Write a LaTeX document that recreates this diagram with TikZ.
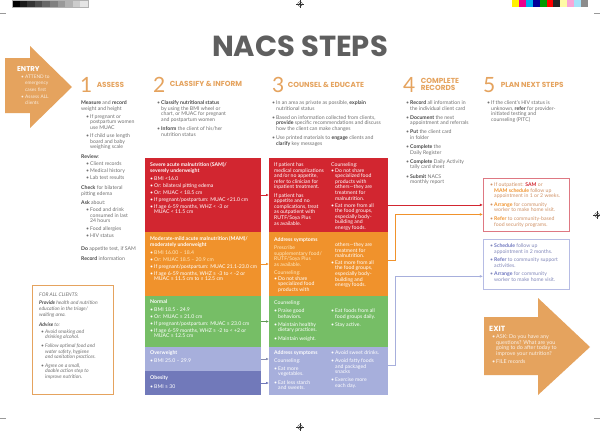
\documentclass[tikz,border=0pt]{standalone}
\usepackage{fontspec}
\setmainfont{Lato}
\newfontfamily\headfont{Poppins}
\usetikzlibrary{arrows.meta, positioning, calc}
\setlength{\parindent}{0pt}

\definecolor{accent}{RGB}{229,163,94}
\definecolor{samred}{RGB}{210,38,48}
\definecolor{mamorange}{RGB}{240,146,44}
\definecolor{normgreen}{RGB}{118,190,102}
\definecolor{owlilac}{RGB}{167,175,220}
\definecolor{obblue}{RGB}{113,121,186}
\definecolor{textgrey}{RGB}{112,112,112}
\definecolor{keygrey}{RGB}{70,70,70}
\definecolor{titlegrey}{RGB}{95,95,95}
\definecolor{planred}{RGB}{222,120,130}
\definecolor{planlilac}{RGB}{182,188,228}
\definecolor{plantxt}{RGB}{208,146,102}
\definecolor{liltxt}{RGB}{130,136,186}
\definecolor{lilkey}{RGB}{108,116,190}
\definecolor{paletxt}{RGB}{255,232,190}

\newcommand{\bu}{\makebox[4pt][l]{\textbullet}}
\newcommand{\ci}{\\\hspace*{4pt}}
\newcommand{\sbu}{\hspace*{5pt}\bu}
\newcommand{\sci}{\\\hspace*{9pt}}
\newcommand{\kw}[1]{\textbf{\color{keygrey}#1}}
\newcommand{\pale}[1]{{\color{paletxt}#1}}

\tikzset{
    body/.style={
        font=\fontsize{5.15}{5.6}\selectfont,
        text=textgrey,
        inner sep=0pt,
        align=left,
        anchor=north west
    },
    boxtext/.style={body, text=white},
    stepnum/.style={
        font=\fontsize{21}{21}\selectfont,
        text=accent,
        inner sep=0pt,
        anchor=base west
    },
    stephead/.style={
        font=\headfont\bfseries\fontsize{7.3}{7.4}\selectfont,
        text=accent,
        inner sep=0pt,
        align=left
    },
    classbox/.style={
        minimum width=116pt,
        inner sep=0pt,
        outer sep=0pt,
        anchor=north west
    },
    counselbox/.style={
        minimum width=119pt,
        inner sep=0pt,
        outer sep=0pt
    },
    planbox/.style={
        draw,
        line width=0.9pt,
        minimum width=86pt,
        inner sep=0pt,
        anchor=north west
    },
    link/.style={line width=0.6pt, -{Latex[length=3pt,width=2.6pt]}},
    flow/.style={line width=0.7pt, -{Latex[length=3.2pt,width=2.8pt]}}
}

\begin{document}
\begin{tikzpicture}[x=1pt, y=-1pt]

    \fill[white] (0,0) rectangle (600,431);
    \useasboundingbox (0,0) rectangle (600,431);

    % printer marks
    \foreach \i [evaluate=\i as \g using 100-10*\i] in {0,...,9}
        \fill[black!\g] (12+7.6*\i,0) rectangle ++(7.6,7);
    \draw[black!30, line width=0.2pt] (12,0) rectangle (88,7);
    \foreach \c [count=\i from 0] in {yellow, magenta, cyan, blue!60!black, green!60!black, red, black!85, yellow!35, magenta!35, cyan!35, black!45}
        \fill[\c] (512+6.9*\i,0) rectangle ++(6.9,7);
    \foreach \mx/\my in {300/4, 597/215, 300/427} {
        \draw[black!80, line width=0.3pt] (\mx,\my) circle[radius=2.4pt];
        \fill[black!80] (\mx,\my) circle[radius=1.1pt];
        \draw[black!80, line width=0.3pt] (\mx-4,\my) -- (\mx+4,\my) (\mx,\my-4) -- (\mx,\my+4);
    }
    \draw[black!40, line width=0.3pt] (0,13) -- (6,13) (594,13) -- (600,13) (0,418) -- (6,418) (594,418) -- (600,418);

    % title
    \node (title) [font=\headfont\bfseries\fontsize{29}{29}\selectfont, text=titlegrey, inner sep=0pt] at (300,46) {NACS STEPS};

    % entry and exit arrows
    \fill[accent] (5,58) -- (30,58) -- (30,46) -- (72,87) -- (30,128) -- (30,113) -- (5,113) -- cycle;
    \node (entry) [font=\headfont\bfseries\fontsize{7}{7}\selectfont, text=white, inner sep=0pt, anchor=west] at (17,69) {ENTRY};
    \node (entrytxt) [body, text=white!80!accent, font=\fontsize{4.8}{6.7}\selectfont] at (21,74.5)
        {\bu ATTEND to\ci emergency\ci cases first\\\bu Assess ALL\ci clients};

    \fill[accent] (484,317) -- (538,317) -- (538,298) -- (590,347) -- (538,395) -- (538,375) -- (484,375) -- cycle;
    \node (exit) [font=\headfont\bfseries\fontsize{7.5}{7.5}\selectfont, text=white, inner sep=0pt, anchor=west] at (489,329) {EXIT};
    \node (exittxt) [body, text=white!85!accent, font=\fontsize{5.4}{5.5}\selectfont] at (492,334.5)
        {\bu ASK: Do you have any\ci questions? What are you\ci going to do after today to\ci improve your nutrition?\\[2.5pt]\bu FILE records};

    % step headings
    \node (n1) [stepnum] at (80,92) {1};
    \node (h1) [stephead, right=4pt of n1] {ASSESS};
    \node (n2) [stepnum] at (153,92) {2};
    \node (h2) [stephead, right=4pt of n2] {CLASSIFY \& INFORM};
    \node (n3) [stepnum] at (272,92) {3};
    \node (h3) [stephead, right=3pt of n3] {COUNSEL \& EDUCATE};
    \node (n4) [stepnum] at (403,92) {4};
    \node (h4) [stephead, right=5pt of n4] {COMPLETE\\RECORDS};
    \node (n5) [stepnum] at (483,92) {5};
    \node (h5) [stephead, right=5pt of n5] {PLAN NEXT STEPS};

    % step texts
    \node (assess) [body] at (81,100.5) {\kw{Measure} and \kw{record}\\weight and height\\[2.6pt]
        \sbu If pregnant or\sci postpartum women\sci use MUAC\\[2.6pt]
        \sbu If child use length\sci board and baby\sci weighing scale\\[4pt]
        \kw{Review}:\\[1.5pt]\sbu Client records\\[1.5pt]\sbu Medical history\\[1.5pt]\sbu Lab test results\\[4pt]
        \kw{Check} for bilateral\\pitting edema\\[4pt]
        \kw{Ask} about:\\[1.5pt]\sbu Food and drink\sci consumed in last\sci 24 hours\\[1.5pt]\sbu Food allergies\\[1.5pt]\sbu HIV status\\[8pt]
        \kw{Do} appetite test, if SAM\\[4pt]
        \kw{Record} information};
    \node (classify) [body] at (157,100.5) {\bu \kw{Classify nutritional status}\ci by using the BMI wheel or\ci chart, or MUAC for pregnant\ci and postpartum women\\[3.5pt]
        \bu \kw{Inform} the client of his/her\ci nutrition status};
    \node (counsel) [body] at (272,100.5) {\bu In an area as private as possible, \kw{explain}\ci nutritional status\\[3.5pt]
        \bu Based on information collected from clients,\ci \kw{provide} specific recommendations and discuss\ci how the client can make changes\\[3.5pt]
        \bu Use printed materials to \kw{engage} clients and\ci \kw{clarify} key messages};
    \node (records) [body] at (406,100.5) {\bu \kw{Record} all information in\ci the individual client card\\[3.5pt]
        \bu \kw{Document} the next\ci appointment and referrals\\[3.5pt]
        \bu \kw{Put} the client card\ci in folder\\[3.5pt]
        \bu \kw{Complete} the\ci Daily Register\\[3.5pt]
        \bu \kw{Complete} Daily Activity\ci tally card sheet\\[3.5pt]
        \bu \kw{Submit} NACS\ci monthly report};
    \node (plan) [body] at (487,100.5) {\bu If the client's HIV status is\ci unknown, \kw{refer} for provider-\ci initiated testing and\ci counseling (PITC)};

    % for all clients
    \node (allbox) [draw=accent, line width=0.9pt, minimum width=81pt, minimum height=109pt, inner sep=0pt, anchor=north west] at (32,285) {};
    \node (alltxt) [body, font=\itshape\fontsize{5}{5.6}\selectfont, below right=7.5pt and 7pt of allbox.north west] {FOR ALL CLIENTS:\\[3pt]
        \kw{Provide} health and nutrition\\education in the triage/\\waiting area.\\[5pt]
        \kw{Advise} to:\\[1pt]
        \hspace*{2pt}\bu Avoid smoking and\\\hspace*{6pt}drinking alcohol.\\[3pt]
        \hspace*{2pt}\bu Follow optimal food and\\\hspace*{6pt}water safety, hygiene\\\hspace*{6pt}and sanitation practices.\\[3pt]
        \hspace*{2pt}\bu Agree on a small,\\\hspace*{6pt}doable action step to\\\hspace*{6pt}improve nutrition.};

    % classification boxes
    \node (sam) [classbox, fill=samred, minimum height=74pt] at (145,158) {};
    \node (mam) [classbox, fill=mamorange, minimum height=64pt, below=0pt of sam] {};
    \node (norm) [classbox, fill=normgreen, minimum height=51pt, below=0pt of mam] {};
    \node (ow) [classbox, fill=owlilac, minimum height=24pt, below=0pt of norm] {};
    \node (ob) [classbox, fill=obblue, minimum height=24pt, below=0pt of ow] {};

    \node (samtxt) [boxtext, below right=4.5pt and 5pt of sam.north west] {\textbf{Severe acute malnutrition (SAM)/}\\\textbf{severely underweight}\\[2.5pt]
        \bu BMI <16.0\\[1.3pt]\bu Or: bilateral pitting edema\\[1.3pt]\bu Or: MUAC < 18.5 cm\\[1.3pt]
        \bu If pregnant/postpartum: MUAC <21.0 cm\\[1.3pt]\bu If age 6-59 months, WHZ < -3 or\ci MUAC < 11.5 cm};
    \node (mamtxt) [boxtext, below right=4.5pt and 5pt of mam.north west] {\textbf{Moderate-mild acute malnutrition (MAM)/}\\\textbf{moderately underweight}\\[2.5pt]
        \bu \pale{BMI 16.00 – 18.4}\\[1.3pt]\bu \pale{Or: MUAC 18.5 – 20.9 cm}\\[1.3pt]
        \bu If pregnant/postpartum: MUAC 21.1-23.0 cm\\[1.3pt]\bu If age 6-59 months, WHZ ≥ -3 to < -2 or\ci MUAC ≥ 11.5 cm to ≤ 12.5 cm};
    \node (normtxt) [boxtext, below right=3.5pt and 5pt of norm.north west] {\textbf{Normal}\\[2.5pt]
        \bu BMI 18.5 - 24.9\\[1.3pt]\bu Or: MUAC ≥ 21.0 cm\\[1.3pt]
        \bu If pregnant/postpartum: MUAC ≥ 23.0 cm\\[1.3pt]\bu If age 6-59 months, WHZ ≥ -2 to < +2 or\ci MUAC ≥ 12.5 cm};
    \node (owtxt) [boxtext, below right=3.5pt and 5pt of ow.north west] {\textbf{Overweight}\\[2.5pt]\bu BMI 25.0 – 29.9};
    \node (obtxt) [boxtext, below right=4.5pt and 5pt of ob.north west] {\textbf{Obesity}\\[3.5pt]\bu BMI ≥ 30};

    % counselling boxes
    \node (samc) [counselbox, fill=samred, minimum height=74pt, right=8pt of sam] {};
    \node (mamc) [counselbox, fill=mamorange, minimum height=64pt, right=8pt of mam] {};
    \node (normc) [counselbox, fill=normgreen, minimum height=51pt, right=8pt of norm] {};
    \node (ovc) [counselbox, fill=owlilac, minimum height=48pt, anchor=north west] at (norm.south east -| normc.west) {};

    \node (samcl) [boxtext, below right=4.5pt and 5pt of samc.north west] {If patient has\\medical complications\\and/or no appetite,\\refer to clinician for\\inpatient treatment.\\[2.6pt]
        If patient has\\appetite and no\\complications, treat\\as outpatient with\\RUTF/Soya Plus\\as available.};
    \node (samcr) [boxtext, below right=4.5pt and 62pt of samc.north west] {Counseling:\\\bu Do not share\ci specialized food\ci products with\ci others—they are\ci treatment for\ci malnutrition.\\[1.5pt]
        \bu Eat more from all\ci the food groups,\ci especially body-\ci building and\ci energy foods.};
    \node (mamcl) [boxtext, below right=5.5pt and 5pt of mamc.north west] {\textbf{Address symptoms}\\[2.5pt]\pale{Prescribe}\\\pale{supplementary food/}\\\pale{RUTF/Soya Plus}\\\pale{as available.}\\[2.6pt]
        \pale{Counseling:}\\\bu Do not share\ci specialized food\ci products with};
    \node (mamcr) [boxtext, below right=10.5pt and 62pt of mamc.north west] {\hspace*{4pt}others—they are\ci treatment for\ci malnutrition.\\[1pt]
        \bu Eat more from all\ci the food groups,\ci especially body-\ci building and\ci energy foods.};
    \node (normcl) [boxtext, below right=4.5pt and 5pt of normc.north west] {Counseling:\\[2.5pt]\bu Praise good\ci behaviors.\\[2.6pt]\bu Maintain healthy\ci dietary practices.\\[2.6pt]\bu Maintain weight.};
    \node (normcr) [boxtext, below right=12.5pt and 62pt of normc.north west] {\bu Eat foods from all\ci food groups daily.\\[2.6pt]\bu Stay active.};
    \node (ovcl) [boxtext, below right=3.5pt and 5pt of ovc.north west] {\textbf{Address symptoms}\\[2pt]Counseling:\\[2.5pt]\bu Eat more\ci vegetables.\\[2.6pt]\bu Eat less starch\ci and sweets.};
    \node (ovcr) [boxtext, below right=3.5pt and 62pt of ovc.north west] {\bu Avoid sweet drinks.\\[2.5pt]\bu Avoid fatty foods\ci and packaged\ci snacks\\[2.6pt]\bu Exercise more\ci each day.};

    % next step boxes
    \node (sfu) [planbox, draw=planred, minimum height=53pt] at (483,178) {};
    \node (nfu) [planbox, draw=planlilac, minimum height=50pt, below=7pt of sfu] {};
    \node (sfutxt) [body, text=plantxt, below right=4.5pt and 7pt of sfu.north west] {\bu If outpatient: \textbf{\color{samred}SAM} or\ci \textbf{\color{mamorange}MAM schedule} follow up\ci appointment in 1 or 2 weeks.\\[3pt]
        \bu \textbf{\color{mamorange}Arrange} for community\ci worker to make home visit.\\[3pt]
        \bu \textbf{\color{mamorange}Refer} to community-based\ci food security programs.};
    \node (nfutxt) [body, text=liltxt, below right=4.5pt and 7pt of nfu.north west] {\bu \textbf{\color{lilkey}Schedule} follow up\ci appointment in 2 months.\\[3pt]
        \bu \textbf{\color{lilkey}Refer} to community support\ci activities.\\[3pt]
        \bu \textbf{\color{lilkey}Arrange} for community\ci worker to make home visit.};

    % connectors
    \draw [link, samred] (sam.east) -- (samc.west);
    \draw [link, mamorange] (mam.east) -- (mamc.west);
    \draw [link, normgreen!80!black] (norm.east) -- (normc.west);
    \draw [link, owlilac!80!black] (ow.east) -- (ow.east -| ovc.west);
    \draw [link, obblue] (ob.east) -- (ob.east -| ovc.west);

    \draw [flow, samred] (samc.east |- sfu.west) -- (sfu.west);
    \draw [flow, mamorange] ([yshift=4pt]mamc.east) -| ([xshift=7pt,yshift=-9.5pt]samc.east |- sfu.west) -- ([yshift=-9.5pt]sfu.west);
    \draw [flow, owlilac] ([yshift=6pt]ovc.east) -| ([xshift=7pt,yshift=-12pt]ovc.east |- nfu.west) -- ([yshift=-12pt]nfu.west);

\end{tikzpicture}
\end{document}
